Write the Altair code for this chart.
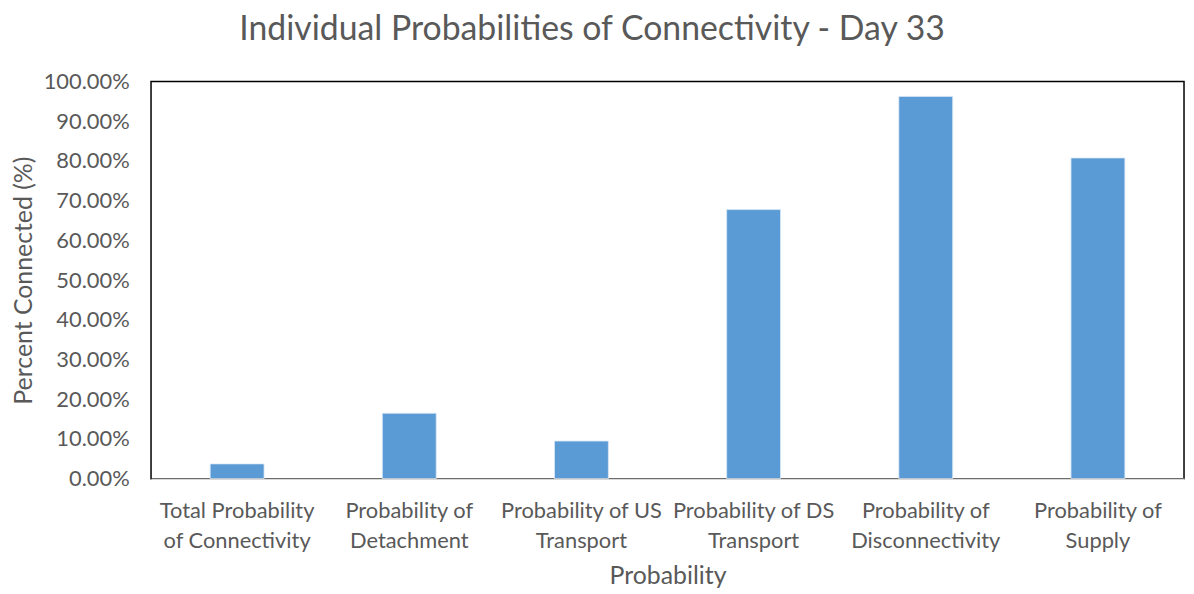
import altair as alt
import pandas as pd

categories = [
    "Total Probability|of Connectivity",
    "Probability of|Detachment",
    "Probability of US|Transport",
    "Probability of DS|Transport",
    "Probability of|Disconnectivity",
    "Probability of|Supply",
]
values = [0.0375, 0.165, 0.095, 0.6775, 0.9625, 0.8075]

df = pd.DataFrame({"cat": categories, "val": values})

FONT = "Lato"
GREY = "#595959"

chart = (
    alt.Chart(df)
    .mark_bar(color="#5b9bd5", stroke="#dbe8f6", strokeWidth=0.8)
    .encode(
        x=alt.X(
            "cat:N",
            sort=None,
            scale=alt.Scale(paddingInner=0.687, paddingOuter=0.3435),
            axis=alt.Axis(
                title="Probability",
                labelAngle=0,
                labelExpr="split(datum.label, '|')",
                labelFontSize=22,
                labelLineHeight=30,
                labelColor=GREY,
                labelFont=FONT,
                labelPadding=22,
                labelLimit=220,
                ticks=False,
                domainColor="#d9d9d9",
                domainWidth=1.5,
                titleFont=FONT,
                titleFontSize=25,
                titleFontWeight="normal",
                titleColor=GREY,
                titlePadding=12,
                zindex=1,
            ),
        ),
        y=alt.Y(
            "val:Q",
            scale=alt.Scale(domain=[0, 1], nice=False),
            axis=alt.Axis(
                title="Percent Connected (%)",
                format=".2%",
                values=[i / 10 for i in range(11)],
                labelFontSize=22,
                labelColor=GREY,
                labelFont=FONT,
                labelPadding=22,
                ticks=False,
                domain=False,
                grid=False,
                titleFont=FONT,
                titleFontSize=25,
                titleFontWeight="normal",
                titleColor=GREY,
                titlePadding=7,
            ),
        ),
    )
    .properties(
        width=1040,
        height=400,
        background="white",
        title=alt.TitleParams(
            "Individual Probabilities of Connectivity - Day 33",
            font=FONT,
            fontSize=34,
            fontWeight="normal",
            color=GREY,
            anchor="middle",
            dx=-76,
            offset=24,
        ),
        autosize=alt.AutoSizeParams(type="none"),
        padding={"left": 144, "top": 72, "right": 2, "bottom": 110},
    )
    .configure_view(stroke="#000000", strokeWidth=1.5)
)

chart.save("out.html", embed_options={"renderer": "svg", "actions": False})
